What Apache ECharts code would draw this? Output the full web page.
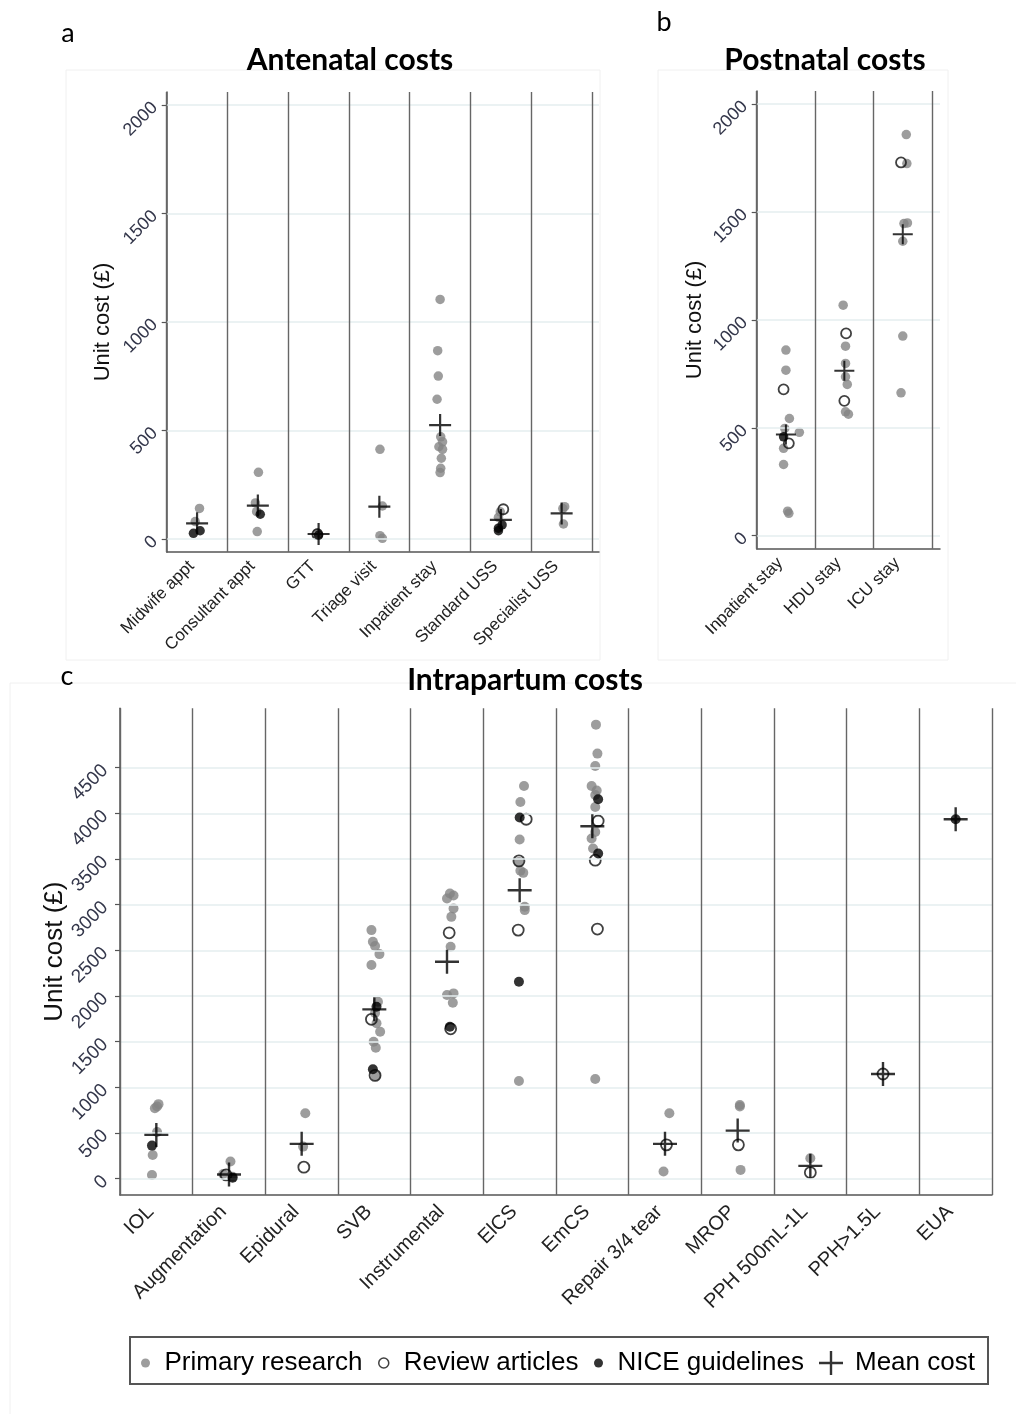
<!DOCTYPE html>
<html>
<head>
<meta charset="utf-8">
<script src="https://cdn.jsdelivr.net/npm/echarts@6/dist/echarts.min.js"></script>
<style>
  html, body { margin: 0; padding: 0; background: #fff; }
  #chart { width: 1016px; height: 1414px; }
</style>
</head>
<body>
<div id="chart"></div>
<script>
// ---- Data: unit costs (£) by source; each point is [category index, cost, jitter] ----
const antenatalCategories = ['Midwife appt', 'Consultant appt', 'GTT', 'Triage visit', 'Inpatient stay', 'Standard USS', 'Specialist USS'];
const antenatalTicks = [0, 500, 1000, 1500, 2000];
const antenatalPrimary = [
  [0, 141, 0.04], [0, 80, -0.03],
  [1, 307, 0.01], [1, 166, -0.04], [1, 126, -0.02], [1, 34, -0.01],
  [2, 28, -0.02],
  [3, 413, 0.01], [3, 152, 0.05], [3, 15, 0.01], [3, 3, 0.05],
  [4, 1104, 0], [4, 868, -0.04], [4, 751, -0.03], [4, 644, -0.05], [4, 471, 0.01], [4, 448, 0.04],
  [4, 425, -0.02], [4, 413, 0.04], [4, 372, 0.02], [4, 326, 0.01], [4, 306, 0],
  [5, 125, -0.01], [5, 100, -0.04],
  [6, 149, 0.05], [6, 140, 0.02], [6, 69, 0.03]
];
const antenatalReview = [[2, 22, -0.02], [5, 137, 0.04]];
const antenatalNice = [[0, 26, -0.06], [0, 38, 0.05], [1, 114, 0.04], [2, 18, 0], [5, 65, 0.02], [5, 50, -0.04], [5, 38, -0.04]];
const antenatalMean = [72, 154, 23, 149, 525, 88, 118];

const postnatalCategories = ['Inpatient stay', 'HDU stay', 'ICU stay'];
const postnatalTicks = [0, 500, 1000, 1500, 2000];
const postnatalPrimary = [
  [0, 860, 0], [0, 767, 0], [0, 543, 0.06], [0, 497, -0.02], [0, 479, 0.23], [0, 405, -0.04],
  [0, 330, -0.04], [0, 114, 0.03], [0, 104, 0.05],
  [1, 1068, -0.02], [1, 878, 0.02], [1, 798, 0.02], [1, 736, 0.02], [1, 701, 0.05], [1, 574, 0.02], [1, 563, 0.07],
  [2, 1858, 0.06], [2, 1724, 0.07], [2, 1446, 0.02], [2, 1449, 0.08], [2, 1364, 0], [2, 925, 0], [2, 662, -0.03]
];
const postnatalReview = [[0, 678, -0.04], [0, 428, 0.05], [1, 937, 0.03], [1, 625, 0], [2, 1729, -0.03]];
const postnatalNice = [[0, 458, -0.04]];
const postnatalMean = [469, 764, 1397];

const intrapartumCategories = ['IOL', 'Augmentation', 'Epidural', 'SVB', 'Instrumental', 'ElCS', 'EmCS',
  'Repair 3/4 tear', 'MROP', 'PPH 500mL-1L', 'PPH>1.5L', 'EUA'];
const intrapartumTicks = [0, 500, 1000, 1500, 2000, 2500, 3000, 3500, 4000, 4500];
const intrapartumPrimary = [
  [0, 815, 0.03], [0, 790, 0.01], [0, 770, -0.02], [0, 510, 0.01], [0, 259, -0.05], [0, 40, -0.06],
  [1, 186, 0.02], [1, 50, -0.08], [1, 20, 0.05],
  [2, 715, 0.05], [2, 350, 0.02],
  [3, 2721, -0.04], [3, 2593, -0.02], [3, 2546, 0.01], [3, 2458, 0.07], [3, 2338, -0.04], [3, 1936, 0.05],
  [3, 1813, 0.01], [3, 1700, 0.03], [3, 1608, 0.08], [3, 1499, -0.01], [3, 1433, 0.02], [3, 1125, 0.02],
  [4, 3122, 0.04], [4, 3100, 0.09], [4, 3068, 0], [4, 2958, 0.09], [4, 2866, 0.06], [4, 2538, 0.05],
  [4, 2028, 0.09], [4, 2010, 0], [4, 1925, 0.08],
  [5, 4299, 0.06], [5, 4124, 0.01], [5, 3713, 0], [5, 3468, -0.01], [5, 3370, 0.01], [5, 3348, 0.05],
  [5, 2976, 0.07], [5, 2940, 0.07], [5, 1069, -0.01],
  [6, 4971, 0.05], [6, 4654, 0.07], [6, 4518, 0.04], [6, 4300, -0.01], [6, 4250, 0.06], [6, 4200, 0.04],
  [6, 4070, 0.04], [6, 3796, 0.04], [6, 3724, -0.01], [6, 3615, 0.01], [6, 1091, 0.04],
  [7, 715, 0.06], [7, 77, -0.02],
  [8, 806, 0.03], [8, 790, 0.03], [8, 95, 0.04],
  [9, 223, 0]
];
const intrapartumReview = [
  [1, 40, -0.04], [2, 125, 0.03], [3, 1744, -0.04], [3, 1130, 0.01], [4, 2691, 0.03], [4, 1640, 0.05],
  [5, 3935, 0.09], [5, 3479, -0.01], [5, 2721, -0.02], [6, 3916, 0.08], [6, 3487, 0.04], [6, 2732, 0.07],
  [7, 369, 0.02], [8, 369, 0.01], [9, 66, 0], [10, 1145, 0]
];
const intrapartumNice = [
  [0, 361, -0.06], [1, 8, 0.05], [3, 1882, 0.03], [3, 1197, -0.02], [4, 1663, 0.04],
  [5, 3954, 0], [5, 2155, -0.01], [6, 4154, 0.08], [6, 3560, 0.08], [11, 3935, 0]
];
const intrapartumMean = [478, 45, 380, 1853, 2374, 3158, 3858, 380, 525, 139, 1145, 3935];

const legendNames = ['Primary research', 'Review articles', 'NICE guidelines', 'Mean cost'];

// ---- Styling ----
const FONT = '"Liberation Sans", Arial, sans-serif';
const TITLE_FONT = 'Lato, "Open Sans", sans-serif';
const GREY = '#858585';
const AXIS = '#555';
const PLUS = 'path://M9,0H11V9H20V11H11V20H9V11H0V9H9Z';

const toPoints = arr => arr.map(p => [p[0] + p[2], p[1]]);
const toMeans = arr => arr.map((v, i) => [i, v]);

function xAxisFor(gi, cats, extra, fontSize, margin) {
  return {
    gridIndex: gi, type: 'value', min: -0.5, max: cats.length - 0.5 + extra,
    axisLine: { show: true, onZero: false, lineStyle: { color: AXIS, width: 1.5 } },
    axisTick: { show: false },
    splitLine: { show: false },
    axisLabel: {
      customValues: cats.map((c, i) => i),
      formatter: v => cats[Math.round(v)],
      rotate: 45, margin, padding: [0, 8, 0, 0], fontSize, fontFamily: FONT, color: '#222'
    }
  };
}

function yAxisFor(gi, ticks, min, max, fontSize, margin, nameSize, nameGap) {
  return {
    gridIndex: gi, type: 'value', min, max,
    name: 'Unit cost (£)', nameLocation: 'middle', nameRotate: 90, nameGap, nameMoveOverlap: false,
    nameTextStyle: { fontSize: nameSize, fontFamily: FONT, color: '#111' },
    axisLine: { show: true, onZero: false, lineStyle: { color: AXIS, width: 1.5 } },
    axisTick: { show: true, customValues: ticks, length: 5, lineStyle: { color: AXIS, width: 1.2 } },
    axisLabel: {
      customValues: ticks, formatter: v => String(v),
      rotate: 45, margin, fontSize, fontFamily: FONT, color: '#33364a'
    },
    splitLine: { show: false }
  };
}

function panelSeries(gi, cats, ticks, primary, review, nice, mean, s) {
  const bounds = cats.map((c, i) => i - 0.5).concat([cats.length - 0.5]);
  return [
    {
      type: 'line', name: 'frame' + gi, xAxisIndex: gi, yAxisIndex: gi, data: [], z: 1, silent: true,
      markLine: {
        silent: true, symbol: 'none', label: { show: false }, animation: false,
        data: ticks.map(t => ({ yAxis: t, lineStyle: { color: '#e4eeef', width: 1.5, type: 'solid' } }))
          .concat(bounds.map(b => ({ xAxis: b, lineStyle: { color: '#666', width: 1.4, type: 'solid' } })))
      }
    },
    {
      type: 'scatter', name: legendNames[0], xAxisIndex: gi, yAxisIndex: gi, z: 3,
      data: toPoints(primary), symbol: 'circle', symbolSize: s.dot, itemStyle: { color: GREY }
    },
    {
      type: 'scatter', name: legendNames[1], xAxisIndex: gi, yAxisIndex: gi, z: 4,
      data: toPoints(review), symbol: 'circle', symbolSize: s.ring,
      itemStyle: { color: 'rgba(0,0,0,0)', borderColor: '#111', borderWidth: 1.8 }
    },
    {
      type: 'scatter', name: legendNames[2], xAxisIndex: gi, yAxisIndex: gi, z: 5,
      data: toPoints(nice), symbol: 'circle', symbolSize: s.dot, itemStyle: { color: '#000' }
    },
    {
      type: 'scatter', name: legendNames[3], xAxisIndex: gi, yAxisIndex: gi, z: 6,
      data: toMeans(mean), symbol: PLUS, symbolSize: s.plus, itemStyle: { color: '#000' }
    }
  ];
}

const legendText = { fontSize: 26, fontFamily: FONT, color: '#000', lineHeight: 26 };
function legendItem(name, left, w, h) {
  return {
    data: [name], left, top: 1350, itemWidth: w, itemHeight: h, padding: 0,
    selectedMode: false, textStyle: legendText
  };
}

function label(text, x, y, font) {
  return { type: 'text', x, y, silent: true, style: { text, font, fill: '#000', align: 'center', verticalAlign: 'middle' } };
}

const chart = echarts.init(document.getElementById('chart'), null, { renderer: 'canvas' });
chart.setOption({
  animation: false,
  backgroundColor: '#fff',
  grid: [
    { left: 166.7, top: 92, width: 432.3, height: 460, outerBoundsMode: 'none' },
    { left: 756.7, top: 91, width: 183.3, height: 457.7, outerBoundsMode: 'none' },
    { left: 120, top: 708.3, width: 872, height: 486.7, outerBoundsMode: 'none' }
  ],
  xAxis: [
    xAxisFor(0, antenatalCategories, 0.115, 17, 6),
    xAxisFor(1, postnatalCategories, 0.137, 17, 6),
    xAxisFor(2, intrapartumCategories, 0, 20, 8)
  ],
  yAxis: [
    yAxisFor(0, antenatalTicks, -60, 2060, 18, 12, 22, 53),
    yAxisFor(1, postnatalTicks, -60, 2060, 18, 12, 22, 51),
    yAxisFor(2, intrapartumTicks, -180, 5150, 19, 15, 26, 52)
  ],
  legend: [
    legendItem(legendNames[0], 141, 28, 9),
    legendItem({ name: legendNames[1], itemStyle: { color: 'rgba(0,0,0,0)', borderColor: '#111', borderWidth: 1.5 } }, 378, 30, 10),
    legendItem(legendNames[2], 594, 28, 9),
    legendItem(legendNames[3], 819, 38, 24)
  ],
  series: [].concat(
    panelSeries(0, antenatalCategories, antenatalTicks, antenatalPrimary, antenatalReview, antenatalNice, antenatalMean,
      { dot: 9.5, ring: 10, plus: 22 }),
    panelSeries(1, postnatalCategories, postnatalTicks, postnatalPrimary, postnatalReview, postnatalNice, postnatalMean,
      { dot: 9.5, ring: 10, plus: 20 }),
    panelSeries(2, intrapartumCategories, intrapartumTicks, intrapartumPrimary, intrapartumReview, intrapartumNice, intrapartumMean,
      { dot: 10, ring: 11, plus: 24 })
  ),
  graphic: [
    { type: 'rect', silent: true, z: -10, shape: { x: 66, y: 70, width: 534, height: 590 }, style: { fill: 'none', stroke: '#f0f0f0', lineWidth: 1 } },
    { type: 'rect', silent: true, z: -10, shape: { x: 658, y: 70, width: 290, height: 590 }, style: { fill: 'none', stroke: '#f0f0f0', lineWidth: 1 } },
    { type: 'rect', silent: true, z: -10, shape: { x: 10, y: 683, width: 1010, height: 740 }, style: { fill: 'none', stroke: '#f0f0f0', lineWidth: 1 } },
    { type: 'rect', silent: true, shape: { x: 130, y: 1337, width: 858, height: 47 }, style: { fill: 'none', stroke: '#555', lineWidth: 2 } },
    label('a', 68, 33, '27px ' + TITLE_FONT),
    label('Antenatal costs', 350, 60, 'bold 30px ' + TITLE_FONT),
    label('b', 664, 22, '27px ' + TITLE_FONT),
    label('Postnatal costs', 825, 60, 'bold 30px ' + TITLE_FONT),
    label('c', 67, 676, '27px ' + TITLE_FONT),
    label('Intrapartum costs', 525, 680, 'bold 30px ' + TITLE_FONT)
  ]
});
</script>
</body>
</html>
